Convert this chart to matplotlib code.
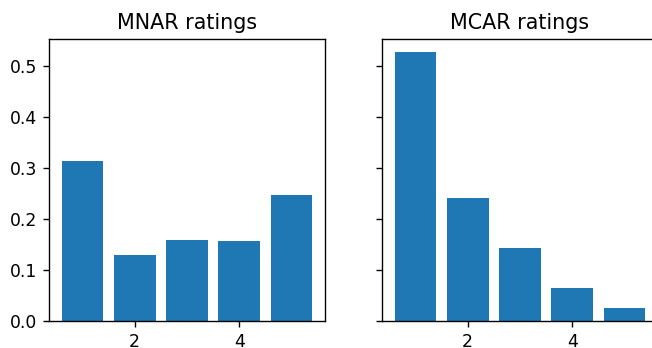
import numpy as np
import matplotlib
matplotlib.use("Agg")
import matplotlib.pyplot as plt

ratings = [1, 2, 3, 4, 5]
mnar = [0.314, 0.129, 0.158, 0.156, 0.247]
mcar = [0.527, 0.242, 0.143, 0.064, 0.025]

# saved a bit larger than default scale, right panel runs off the edge
fig = plt.figure(figsize=(652 / 124, 348 / 124), dpi=124)
ax1 = fig.add_axes([49 / 652, 27 / 348, 276 / 652, 282 / 348])
ax2 = fig.add_axes([382 / 652, 27 / 348, 276 / 652, 282 / 348], sharey=ax1)
ax2.tick_params(labelleft=False)

ax1.bar(ratings, mnar)
ax1.set_title("MNAR ratings")
ax2.bar(ratings, mcar)
ax2.set_title("MCAR ratings")

fig.savefig("out.png")
